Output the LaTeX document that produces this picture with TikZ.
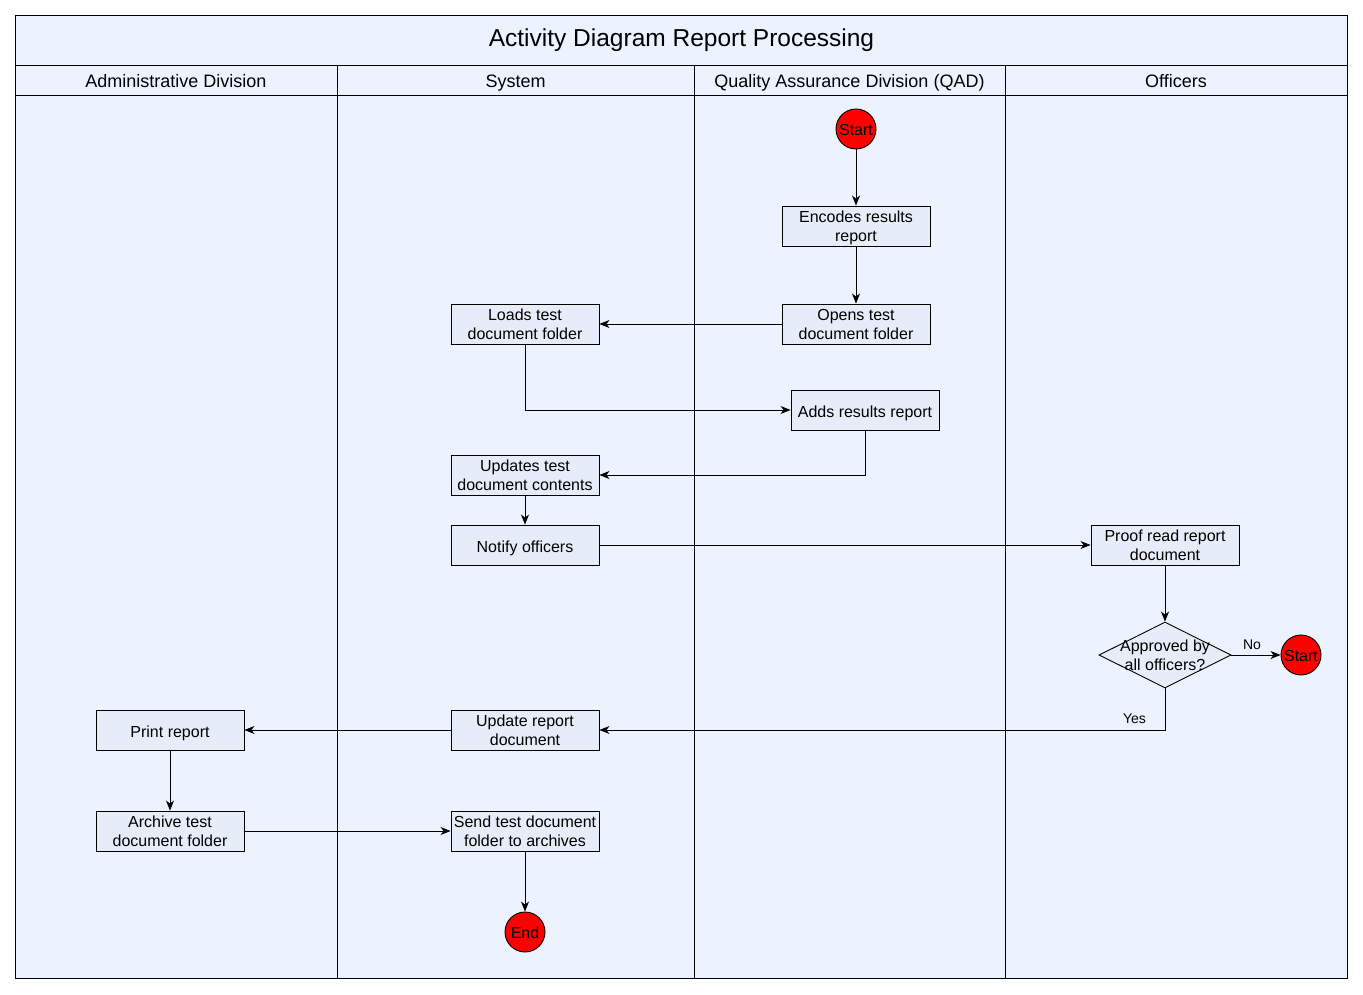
\documentclass[tikz,border=0pt]{standalone}
\usepackage{fontspec}
\setmainfont{Liberation Sans}
\usetikzlibrary{arrows.meta,shapes.geometric}
\definecolor{lanebg}{HTML}{ECF3FE}
\definecolor{boxbg}{HTML}{E7EDF8}
\begin{document}
\begin{tikzpicture}[x=1pt,y=-1pt,
  act/.style={draw,fill=boxbg,minimum width=148pt,minimum height=40pt,inner sep=0pt,align=center,font=\fontsize{16}{19}\selectfont,line width=0.9pt},
  one/.style={act,text height=14pt,text depth=0pt},
  two/.style={act,text height=31.5pt,text depth=0pt},
  term/.style={circle,draw,fill=red,minimum size=40pt,inner sep=0pt,font=\fontsize{16}{18}\selectfont,text height=13pt,text depth=0pt,line width=0.9pt},
  dec/.style={diamond,draw,fill=boxbg,minimum width=132pt,minimum height=66pt,inner sep=0pt,line width=0.9pt},
  dectext/.style={align=center,inner sep=0pt,font=\fontsize{16}{19}\selectfont,text height=31pt,text depth=0pt},
  flow/.style={-{Stealth[length=10pt,width=8pt,inset=3pt]},line width=0.9pt},
  lane/.style={line width=0.9pt},
  hdr/.style={font=\fontsize{18}{20}\selectfont,anchor=base},
  lbl/.style={font=\fontsize{14}{16}\selectfont,inner sep=1pt},
]
\useasboundingbox (0,0) rectangle (1363,995);
\fill[white] (0,0) rectangle (1363,995);
\draw[lane,fill=lanebg] (15,15) rectangle (1347,978);
\draw[lane] (15,65) -- (1347,65);
\draw[lane] (15,95) -- (1347,95);
\draw[lane] (337,65) -- (337,978);
\draw[lane] (694,65) -- (694,978);
\draw[lane] (1005,65) -- (1005,978);
\node[font=\fontsize{24.5}{26}\selectfont,anchor=base] (title) at (681.5,46.5) {Activity Diagram Report Processing};
\node[hdr] (h1) at (176,88) {Administrative Division};
\node[hdr] (h2) at (515.5,88) {System};
\node[hdr] (h3) at (849.5,88) {Quality Assurance Division (QAD)};
\node[hdr] (h4) at (1176,88) {Officers};

\node[term] (s1) at (856,129) {Start};
\node[two] (enc) at (856,226) {Encodes results\\report};
\node[two] (open) at (856,324) {Opens test\\document folder};
\node[two] (load) at (525,324) {Loads test\\document folder};
\node[one] (add) at (865,410) {Adds results report};
\node[two] (upd) at (525,475) {Updates test\\document contents};
\node[one] (notify) at (525,545) {Notify officers};
\node[two] (proof) at (1165,545) {Proof read report\\document};
\node[dec] (dec) at (1165,655) {};
\node[dectext] (dect) at (1165,655) {Approved by\\all officers?};
\node[term] (s2) at (1301,655) {Start};
\node[two] (updrep) at (525,730) {Update report\\document};
\node[one] (print) at (170,730) {Print report};
\node[two] (arch) at (170,831) {Archive test\\document folder};
\node[two] (send) at (525,831) {Send test document\\folder to archives};
\node[term] (end) at (525,932) {End};

\draw[flow] (s1) -- (enc);
\draw[flow] (enc) -- (open);
\draw[flow] (open) -- (load);
\draw[flow] (load.south) |- (add.west);
\draw[flow] (add.south) |- (upd.east);
\draw[flow] (upd) -- (notify);
\draw[flow] (notify) -- (proof);
\draw[flow] (proof) -- (dec);
\draw[flow] (dec.east) -- node[lbl,above=4pt,pos=0.42] (no) {No} (s2);
\draw[flow] (dec.south) |- node[lbl,above=5pt,pos=0.527] (yes) {Yes} (updrep.east);
\draw[flow] (updrep) -- (print);
\draw[flow] (print) -- (arch);
\draw[flow] (arch) -- (send);
\draw[flow] (send) -- (end);
\end{tikzpicture}
\end{document}
